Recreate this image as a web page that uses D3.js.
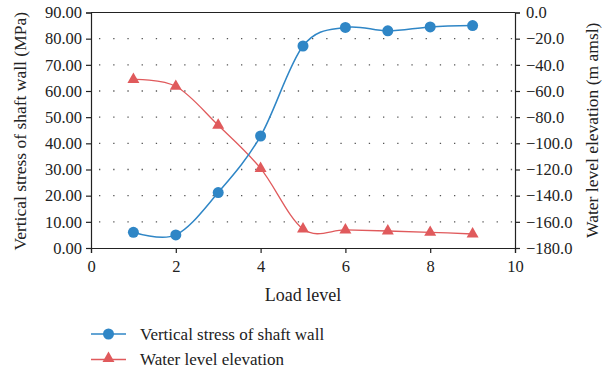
<!DOCTYPE html>
<html><head><meta charset="utf-8">
<script src="https://cdn.jsdelivr.net/npm/d3@7"></script>
<style>body{margin:0;background:#fff}svg{font-family:"Liberation Serif","DejaVu Serif",serif;}</style>
</head><body><svg id="c" width="604" height="377"></svg>
<script>
const loadLevels = [1,2,3,4,5,6,7,8,9];
const stress = [6.0,5.0,21.2,42.8,77.2,84.3,83.0,84.5,85.0];
const waterLevel = [-51.2,-56.4,-86.2,-119.2,-165.5,-166.2,-167.0,-168.0,-169.3];
const xTicks = [0,2,4,6,8,10];
const leftTicks = [0,10,20,30,40,50,60,70,80,90];
const rightTicks = [0,-20,-40,-60,-80,-100,-120,-140,-160,-180];
const seriesNames = ["Vertical stress of shaft wall","Water level elevation"];
const colors = ["#2f86c6","#e05a5c"];

const svg = d3.select("#c");
const m = {l:91,r:515,t:12.5,b:248};
const x = d3.scaleLinear().domain([0,10]).range([m.l,m.r]);
const yL = d3.scaleLinear().domain([0,90]).range([m.b,m.t]);
const yR = d3.scaleLinear().domain([-180,0]).range([m.b,m.t]);

// grid
svg.append("g").selectAll("line").data(leftTicks.slice(1,-1)).join("line")
  .attr("x1",m.l+8).attr("x2",m.r).attr("y1",d=>yL(d)).attr("y2",d=>yL(d))
  .attr("stroke","#555").attr("stroke-width",1.3).attr("stroke-dasharray","1.3,12.9");

// frame
svg.append("line").attr("x1",m.l).attr("x2",m.r).attr("y1",m.t).attr("y2",m.t).attr("stroke","#222").attr("stroke-width",1.2);

const fs = "16.5px";
const gx = svg.append("g").attr("transform",`translate(0,${m.b})`)
  .call(d3.axisBottom(x).tickValues(xTicks).tickSize(5).tickPadding(7).tickFormat(d3.format("d")));
const gl = svg.append("g").attr("transform",`translate(${m.l},0)`)
  .call(d3.axisLeft(yL).tickValues(leftTicks).tickSize(5).tickPadding(4).tickFormat(d3.format(".2f")));
const gr = svg.append("g").attr("transform",`translate(${m.r},0)`)
  .call(d3.axisRight(yR).tickValues(rightTicks).tickSize(5).tickPadding(6).tickFormat(d=>d3.format(".1f")(d).replace("-","\u2212")));
[gx,gl,gr].forEach(g=>{
  g.selectAll("text").attr("font-size",fs).attr("fill","#222").attr("font-family","Liberation Serif, serif");
  g.selectAll("line,path").attr("stroke","#222").attr("stroke-width",1.2);
});

// titles
svg.append("text").attr("x",303).attr("y",301).attr("text-anchor","middle").attr("font-size","18px").attr("fill","#222").text("Load level");
svg.append("text").attr("transform",`translate(26,${(m.t+m.b)/2+1}) rotate(-90)`).attr("text-anchor","middle").attr("font-size","17.5px").attr("fill","#222").text("Vertical stress of shaft wall (MPa)");
svg.append("text").attr("transform",`translate(598,${(m.t+m.b)/2}) rotate(-90)`).attr("text-anchor","middle").attr("font-size","17.5px").attr("fill","#222").text("Water level elevation (m amsl)");

const curve = d3.curveCatmullRom.alpha(0);
const lineL = d3.line().x((d,i)=>x(loadLevels[i])).y(d=>yL(d)).curve(curve);
const lineR = d3.line().x((d,i)=>x(loadLevels[i])).y(d=>yR(d)).curve(curve);
svg.append("path").attr("d",lineR(waterLevel)).attr("fill","none").attr("stroke",colors[1]).attr("stroke-width",1.3);
svg.append("path").attr("d",lineL(stress)).attr("fill","none").attr("stroke",colors[0]).attr("stroke-width",1.5);

const tri = d3.symbol().type(d3.symbolTriangle).size(62);
svg.append("g").selectAll("path").data(waterLevel).join("path")
  .attr("transform",(d,i)=>`translate(${x(loadLevels[i])},${yR(d)})`).attr("d",tri()).attr("fill",colors[1]);
svg.append("g").selectAll("circle").data(stress).join("circle")
  .attr("cx",(d,i)=>x(loadLevels[i])).attr("cy",d=>yL(d)).attr("r",5.5).attr("fill",colors[0]);

// legend
const lg = svg.append("g");
[0,1].forEach(i=>{
  const yy = 334 + i*25.5;
  lg.append("line").attr("x1",91).attr("x2",126).attr("y1",yy).attr("y2",yy).attr("stroke",colors[i]).attr("stroke-width",1.5);
  if(i===0) lg.append("circle").attr("cx",108.5).attr("cy",yy).attr("r",5.5).attr("fill",colors[0]);
  else lg.append("path").attr("transform",`translate(108.5,${yy-1})`).attr("d",tri()).attr("fill",colors[1]);
  lg.append("text").attr("x",140).attr("y",yy+5.5).attr("font-size","17px").attr("fill","#222").text(seriesNames[i]);
});
</script></body></html>
